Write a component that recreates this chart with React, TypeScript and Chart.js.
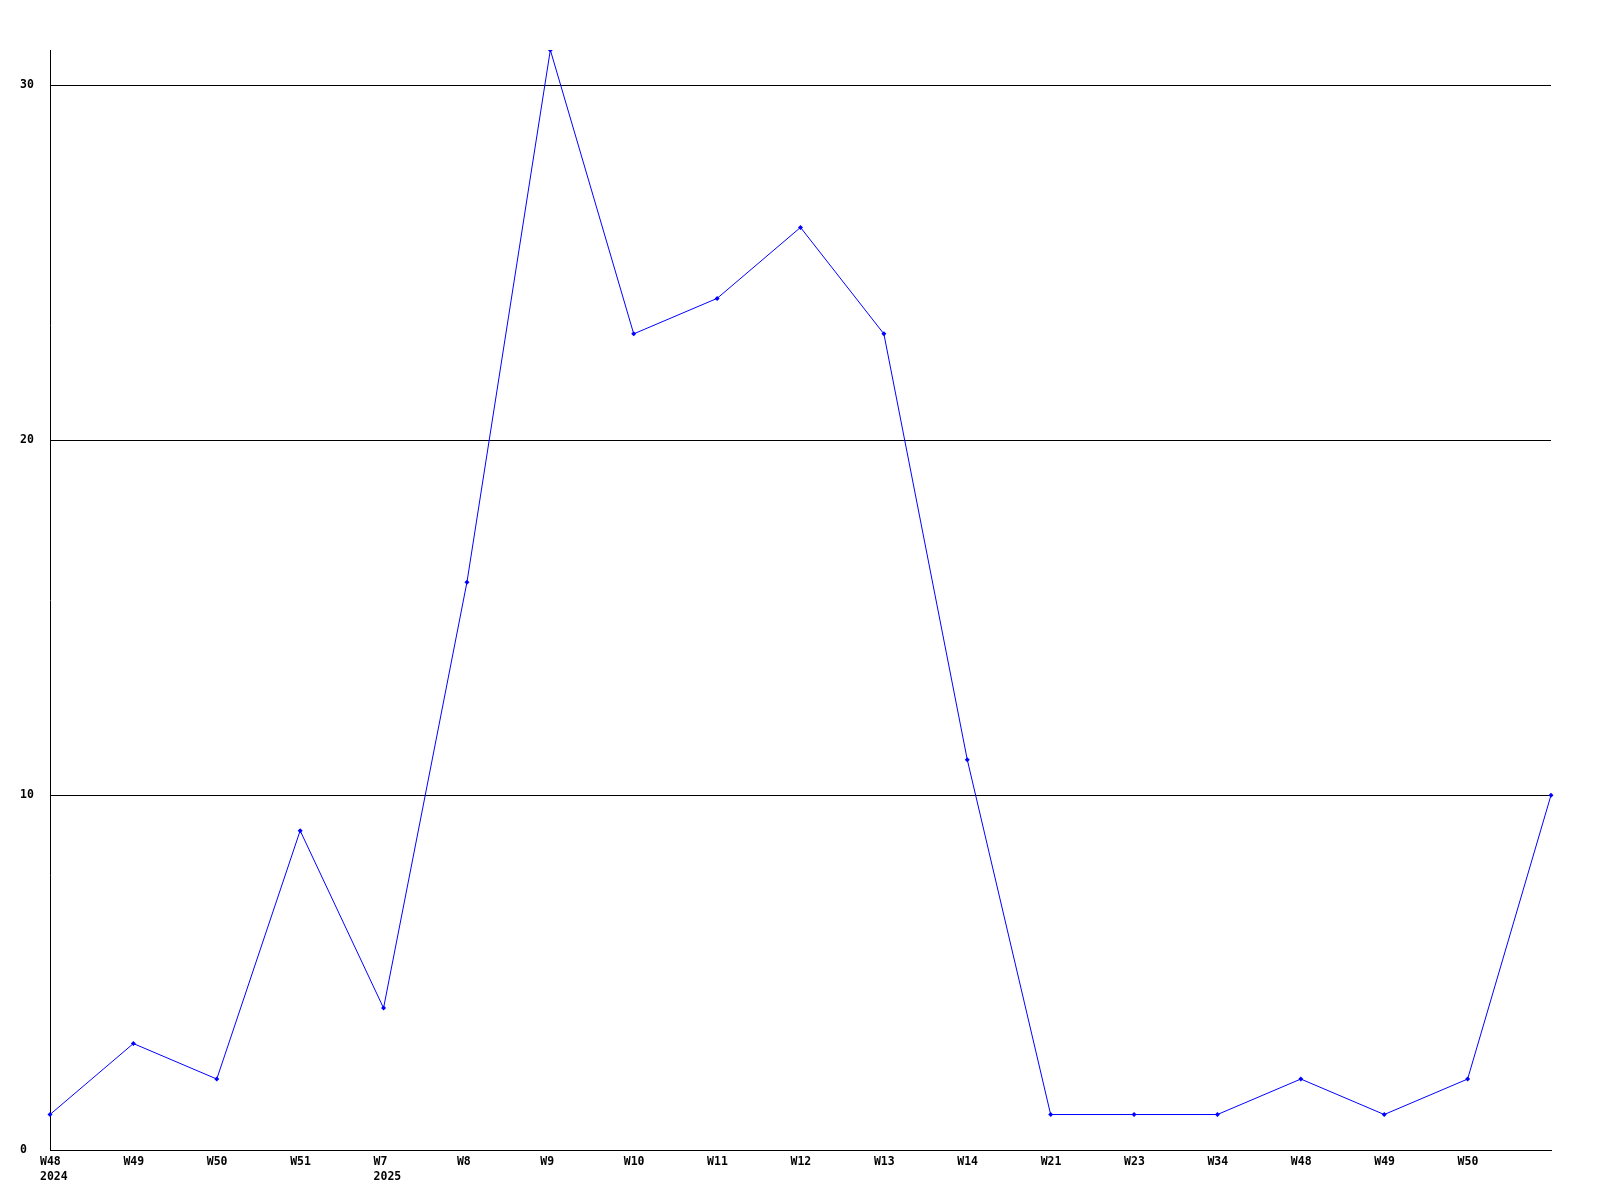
import React, { useEffect, useRef } from "react";
import { Chart, registerables } from "chart.js";

Chart.register(...registerables);

const weekLabels: (string | string[])[] = [
  ["W48", "2024"], "W49", "W50", "W51", ["W7", "2025"], "W8", "W9", "W10", "W11",
  "W12", "W13", "W14", "W21", "W23", "W34", "W48", "W49", "W50", "",
];
const seriesValues: number[] = [1, 3, 2, 9, 4, 16, 31, 23, 24, 26, 23, 11, 1, 1, 1, 2, 1, 2, 10];
const yTickValues: number[] = [0, 10, 20, 30];
const yMax = 31;

export default function App() {
  const ref = useRef<HTMLCanvasElement | null>(null);
  useEffect(() => {
    if (!ref.current) return;
    const font = { family: "'DejaVu Sans Mono', monospace", size: 11.5, weight: "bold" as const, lineHeight: "15px" };
    const chart = new Chart(ref.current, {
      type: "line",
      data: {
        labels: weekLabels,
        datasets: [
          {
            data: seriesValues,
            borderColor: "#0000ff",
            backgroundColor: "#0000ff",
            borderWidth: 1,
            pointRadius: 2.5,
            pointStyle: "rectRot",
            pointBorderWidth: 0,
            tension: 0,
            fill: false,
          },
        ],
      },
      options: {
        responsive: false,
        animation: false,
        devicePixelRatio: 1,
        layout: { padding: { left: 20, top: 50, right: 49, bottom: 0 } },
        plugins: { legend: { display: false }, tooltip: { enabled: false } },
        scales: {
          x: {
            type: "category",
            offset: false,
            grid: { display: false, drawTicks: false },
            border: { display: true, color: "#000", width: 1 },
            ticks: {
              color: "#000",
              font,
              align: "start",
              labelOffset: -10,
              padding: 5,
              maxRotation: 0,
              autoSkip: false,
            },
            afterFit: (scale: any) => {
              scale.height = 50;
            },
          },
          y: {
            min: 0,
            max: yMax,
            grid: { color: "#000", lineWidth: 1, drawTicks: false },
            border: { display: true, color: "#000", width: 1 },
            afterBuildTicks: (scale: any) => {
              scale.ticks = yTickValues.map((v) => ({ value: v }));
            },
            ticks: {
              color: "#000",
              font,
              crossAlign: "far",
              padding: 16,
            },
            afterFit: (scale: any) => {
              scale.width = 30;
            },
          },
        },
      },
    });
    return () => chart.destroy();
  }, []);
  return (
    <div style={{ position: "absolute", left: 0, top: 0, width: 1600, height: 1200, background: "#fff" }}>
      <canvas ref={ref} width={1600} height={1200} />
    </div>
  );
}
